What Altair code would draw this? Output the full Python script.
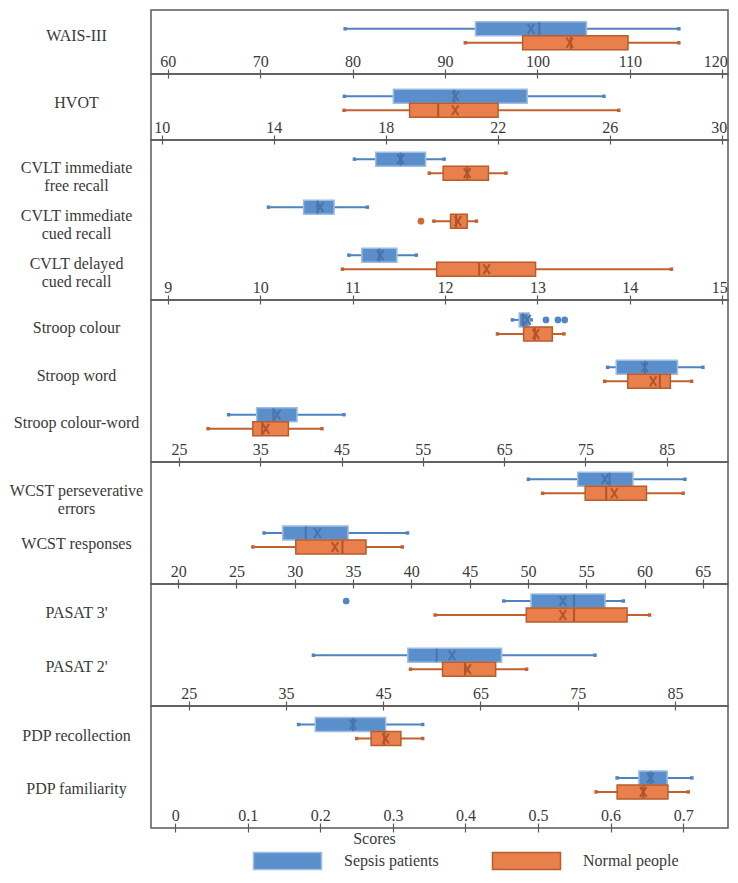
import altair as alt
import pandas as pd

# ---------------- data ----------------
tests = ["WAIS-III", "HVOT",
         "CVLT immediate|free recall", "CVLT immediate|cued recall", "CVLT delayed|cued recall",
         "Stroop colour", "Stroop word", "Stroop colour-word",
         "WCST perseverative|errors", "WCST responses",
         "PASAT 3'", "PASAT 2'",
         "PDP recollection", "PDP familiarity"]
panel_of_test = [0, 1, 2, 2, 2, 3, 3, 3, 4, 4, 5, 5, 6, 6]
groups = ["Sepsis patients", "Normal people"]

sepsis_low  = [79.2, 16.52, 11.02, 10.09, 10.96, 66.02, 77.73, 31.11, 50.04, 27.37, 57.41, 37.83, 0.170, 0.609]
sepsis_q1   = [93.3, 18.27, 11.25, 10.47, 11.10, 66.85, 78.79, 34.55, 54.27, 28.97, 60.21, 47.54, 0.193, 0.639]
sepsis_med  = [100.2, 20.45, 11.52, 10.62, 11.29, 67.31, 82.33, 36.62, 57.00, 30.95, 64.63, 50.50, 0.245, 0.655]
sepsis_mean = [99.3, 20.49, 11.52, 10.65, 11.30, 67.86, 82.30, 37.08, 56.60, 31.95, 63.48, 52.07, 0.245, 0.655]
sepsis_q3   = [105.3, 23.05, 11.79, 10.80, 11.48, 68.09, 86.32, 39.52, 59.01, 34.57, 67.82, 57.18, 0.290, 0.678]
sepsis_high = [115.3, 25.79, 11.99, 11.16, 11.69, 68.32, 89.45, 45.30, 63.47, 39.67, 69.70, 66.78, 0.341, 0.712]

normal_low  = [92.2, 16.51, 11.83, 11.88, 10.89, 64.18, 77.37, 28.58, 51.26, 26.41, 50.35, 47.81, 0.250, 0.580]
normal_q1   = [98.4, 18.85, 11.98, 12.06, 11.91, 67.40, 80.21, 34.09, 54.91, 30.09, 59.72, 51.11, 0.270, 0.609]
normal_med  = [103.6, 19.87, 12.24, 12.12, 12.37, 68.78, 84.16, 35.24, 56.71, 34.09, 64.63, 53.42, 0.288, 0.645]
normal_mean = [103.5, 20.48, 12.24, 12.14, 12.45, 68.90, 83.34, 35.70, 57.41, 33.45, 63.48, 53.69, 0.290, 0.645]
normal_q3   = [109.8, 22.01, 12.47, 12.24, 12.98, 70.93, 85.45, 38.46, 60.17, 36.11, 70.08, 56.57, 0.311, 0.679]
normal_high = [115.3, 26.32, 12.66, 12.34, 14.45, 72.36, 88.07, 42.59, 63.31, 39.22, 72.39, 59.75, 0.341, 0.707]

outlier_test  = ["CVLT immediate|cued recall", "Stroop colour", "Stroop colour", "Stroop colour", "PASAT 3'"]
outlier_group = ["Normal people", "Sepsis patients", "Sepsis patients", "Sepsis patients", "Sepsis patients"]
outlier_value = [11.74, 70.15, 71.62, 72.45, 41.2]

panel_ticks = [
    [60, 70, 80, 90, 100, 110, 120],
    [10, 14, 18, 22, 26, 30],
    [9, 10, 11, 12, 13, 14, 15],
    [25, 35, 45, 55, 65, 75, 85],
    [20, 25, 30, 35, 40, 45, 50, 55, 60, 65],
    [25, 35, 45, 55, 65, 75],
    [0, 0.1, 0.2, 0.3, 0.4, 0.5, 0.6, 0.7],
]
panel_domains = [
    [58.19, 120.62], [9.616, 30.22], [8.819, 15.062], [21.56, 92.54],
    [17.67, 67.16], [21.13, 80.46], [-0.0334, 0.7618],
]

# ---------------- style ----------------
SERIF = "Liberation Serif"
TXT = "#3a3a3a"
FRAME = "#595959"
BLUE_FILL, ORANGE_FILL = "#5A8FCB", "#E9804B"
BLUE_EDGE, ORANGE_EDGE = "#9DBDE3", "#B85B2D"
BLUE_LINE, ORANGE_LINE = "#4F82C0", "#C0612F"
BLUE_DARK, ORANGE_DARK = "#4A74A8", "#B0552B"
PANEL_W = 577
BOX_H = 14
# (plot height, band step, top offset of first band)
panel_layout = [(64, 45, 3.3), (66, 45, 6.8), (160, 48, 3.65), (162, 47.4, 4.4),
                (122, 53.7, 1.76), (122, 54.2, 1.5), (122, 53.4, 3.0)]
PANELS_TOTAL = sum(h for h, _, _ in panel_layout)
X_SHAPE = "M-0.65,-1L0.65,1M0.65,-1L-0.65,1"

rows = []
for i, t in enumerate(tests):
    for g, arrs in zip(groups, [
        (sepsis_low, sepsis_q1, sepsis_med, sepsis_mean, sepsis_q3, sepsis_high),
        (normal_low, normal_q1, normal_med, normal_mean, normal_q3, normal_high),
    ]):
        rows.append(dict(test=t, group=g, panel=panel_of_test[i],
                         low=arrs[0][i], q1=arrs[1][i], med=arrs[2][i],
                         mean=arrs[3][i], q3=arrs[4][i], high=arrs[5][i]))
stats = pd.DataFrame(rows)
outl = pd.DataFrame(dict(test=outlier_test, group=outlier_group, value=outlier_value))
outl["panel"] = [panel_of_test[tests.index(t)] for t in outlier_test]

is_sep = alt.datum.group == groups[0]


def two(c1, c2):
    return alt.when(is_sep).then(alt.value(c1)).otherwise(alt.value(c2))


legend = alt.Legend(
    title=None, orient="none", legendX=127, legendY=PANELS_TOTAL + 32 - 8.5,
    direction="horizontal",
    symbolType="M-4,-1H4V1H-4Z", symbolSize=289, symbolStrokeWidth=1.5,
    labelFont=SERIF, labelFontSize=16, labelColor=TXT, labelOffset=47,
    columnPadding=50, padding=0,
)


def make_panel(p):
    d = stats[stats.panel == p]
    ts = [t for t, q in zip(tests, panel_of_test) if q == p]
    n = len(ts)
    H, S, t0 = panel_layout[p]
    outer = H - n * S
    yscale = alt.Scale(domain=ts, paddingInner=0, paddingOuter=outer / (2 * S), align=t0 / outer)
    yaxis = alt.Axis(title=None, domain=False, ticks=False, labelAlign="center", labelPadding=75,
                     labelFont=SERIF, labelFontSize=16, labelColor=TXT,
                     labelExpr="split(datum.label, '|')", labelLineHeight=18, labelLimit=0)
    y = alt.Y("test:N", scale=yscale, axis=yaxis)
    yoff = alt.YOffset("group:N", scale=alt.Scale(domain=groups, paddingInner=0,
                                                   paddingOuter=(S / BOX_H - 2) / 2))
    label_expr = "format(datum.value, '~g')"
    if p == 5:
        label_expr = "datum.value >= 55 ? format(datum.value + 10, '~g') : format(datum.value, '~g')"
    last = p == len(panel_layout) - 1
    axkw = dict(values=panel_ticks[p], labelExpr=label_expr, domain=False, grid=False,
                tickSize=9, tickWidth=1.2, tickColor=FRAME, offset=-5, labelPadding=-11.4,
                labelBaseline="alphabetic", labelFont=SERIF, labelFontSize=16, labelColor=TXT,
                labelFlush=9, labelFlushOffset=5, labelOverlap=False)
    if last:
        axkw.update(title="Scores", titleFont=SERIF, titleFontSize=16, titleFontWeight="normal",
                    titleColor=TXT, titleX=223, titleY=15, titleBaseline="middle", titleAlign="center")
    else:
        axkw.update(title=None)
    xaxis = alt.Axis(**axkw)
    xs = alt.Scale(domain=panel_domains[p], nice=False, zero=False)

    def X(f):
        return alt.X(f, scale=xs, axis=xaxis, title="Scores" if last else None)

    base = alt.Chart(d)
    whisk = base.mark_rule(strokeWidth=2).encode(
        x=X("low:Q"), x2="high:Q", y=y, yOffset=yoff, color=two(BLUE_LINE, ORANGE_LINE))
    caps = base.transform_fold(["low", "high"], as_=["k", "v"]).mark_point(
        shape="square", filled=True, size=12, opacity=1).encode(
        x=X("v:Q"), y=y, yOffset=yoff, color=two(BLUE_LINE, ORANGE_LINE))
    box = base.mark_bar(strokeWidth=1.5).encode(
        x=X("q1:Q"), x2="q3:Q", y=y, yOffset=yoff,
        fill=alt.Fill("group:N", scale=alt.Scale(domain=groups, range=[BLUE_FILL, ORANGE_FILL]), legend=legend),
        stroke=alt.Stroke("group:N", scale=alt.Scale(domain=groups, range=[BLUE_EDGE, ORANGE_EDGE]), legend=legend))
    med = base.mark_tick(thickness=2, size=BOX_H - 1, opacity=1).encode(
        x=X("med:Q"), y=y, yOffset=yoff, color=two(BLUE_DARK, ORANGE_DARK))
    mean = base.mark_point(shape=X_SHAPE, filled=False, strokeWidth=2, size=100, opacity=1).encode(
        x=X("mean:Q"), y=y, yOffset=yoff, color=two(BLUE_DARK, ORANGE_DARK))
    layers = [whisk, caps, box, med, mean]
    od = outl[outl.panel == p]
    if len(od):
        layers.append(alt.Chart(od).mark_circle(size=45, opacity=1).encode(
            x=X("value:Q"), y=y, yOffset=yoff, color=two("#4F86C6", "#D06A35")))
    return alt.layer(*layers).properties(width=PANEL_W, height=H)


chart = alt.vconcat(*[make_panel(p) for p in range(len(panel_layout))], spacing=0, bounds="flush")
chart = chart.properties(padding={"left": 0, "top": 1, "right": 0, "bottom": 0}).configure_view(
    stroke=FRAME, strokeWidth=1.5)

chart.save("out.html", embed_options={"renderer": "svg", "actions": False})
